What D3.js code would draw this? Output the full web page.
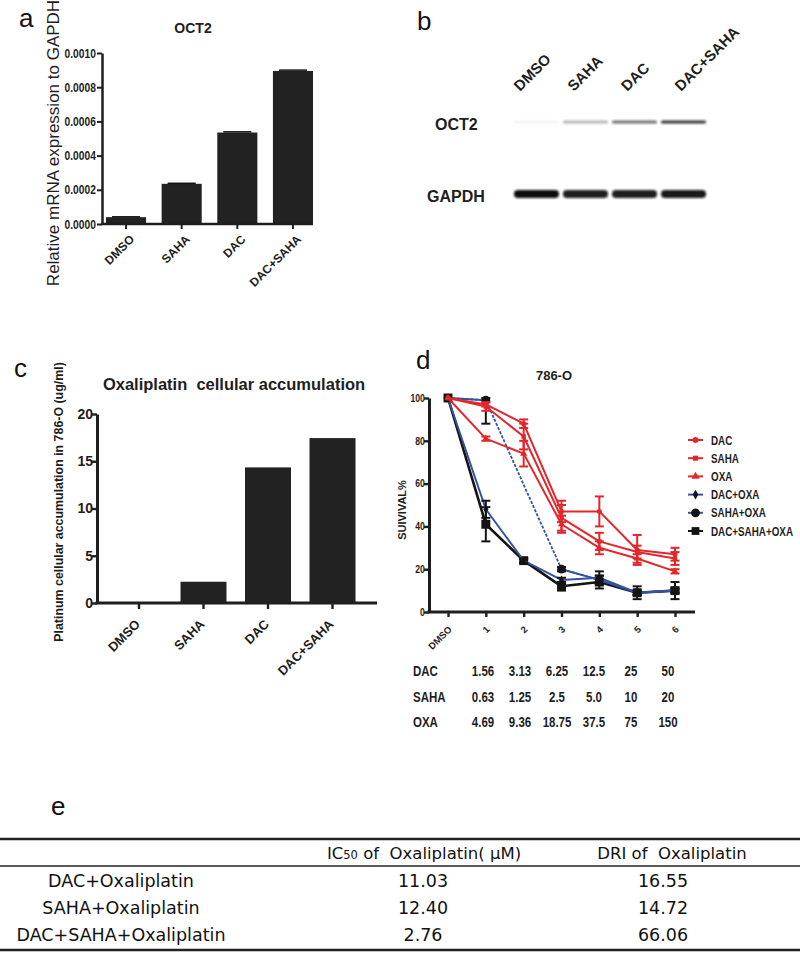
<!DOCTYPE html>
<html><head><meta charset="utf-8">
<script src="https://cdn.jsdelivr.net/npm/d3@7"></script>
<style>body{margin:0;background:#fff}svg{display:block}</style>
</head><body>
<svg id="fig" width="800" height="954"></svg>
<script>
// ---------------- DATA ----------------
const octCats = ["DMSO", "SAHA", "DAC", "DAC+SAHA"];
const octMRNA = [0.00004, 0.000235, 0.000535, 0.000895];
const octMRNAerr = [0.000002, 0.000003, 0.000004, 0.000005];
const octTicks = [0, 0.0002, 0.0004, 0.0006, 0.0008, 0.0010];

const blotLanes = ["DMSO", "SAHA", "DAC", "DAC+SAHA"];
const blotProteins = ["OCT2", "GAPDH"];
const oct2Band = [0.04, 0.3, 0.6, 0.85];
const gapdhBand = [1.0, 0.92, 0.92, 0.95];

const accCats = ["DMSO", "SAHA", "DAC", "DAC+SAHA"];
const accVals = [0.05, 2.25, 14.35, 17.45];
const accTicks = [0, 5, 10, 15, 20];

const doseCats = ["DMSO", "1", "2", "3", "4", "5", "6"];
const survTicks = [0, 20, 40, 60, 80, 100];
const survDAC = [100, 97, 88, 47, 47, 29, 27];
const survDACerr = [0, 1, 2, 5, 7, 7, 3];
const survSAHA = [100, 96, 82, 44, 33, 28, 25];
const survSAHAerr = [0, 2, 6, 6, 4, 3, 3];
const survOXA = [100, 81, 74, 41, 30, 25, 19];
const survOXAerr = [0, 1, 6, 4, 3, 2, 1];
const survDACOXA = [100, 48, 24, 15, 16, 9, 10];
const survDACOXAerr = [0, 4, 1, 1, 3, 1, 1];
const survSAHAOXA = [100, 99, null, 20, 15, 9, 10];
const survSAHAOXAerr = [0, 11, 0, 1, 2, 1, 1];
const survTriple = [100, 41, 24, 12, 14, 9, 10];
const survTripleerr = [0, 8, 1, 2, 3, 3, 4];

const doseRowNames = ["DAC", "SAHA", "OXA"];
const doseDAC = ["1.56", "3.13", "6.25", "12.5", "25", "50"];
const doseSAHA = ["0.63", "1.25", "2.5", "5.0", "10", "20"];
const doseOXA = ["4.69", "9.36", "18.75", "37.5", "75", "150"];

const tblRows = ["DAC+Oxaliplatin", "SAHA+Oxaliplatin", "DAC+SAHA+Oxaliplatin"];
const tblIC50 = ["11.03", "12.40", "2.76"];
const tblDRI = ["16.55", "14.72", "66.06"];

// ---------------- SETUP ----------------
const svg = d3.select("#fig");
const F = "'Liberation Sans', Arial, sans-serif";
const INK = "#1e1e1e";
const RED = "#e4262b", BLUE = "#34539f", BLK = "#141414";
const NARROW = 0.82;

function styleAxis(g, w, fs) {
  g.selectAll(".domain").attr("stroke", INK).attr("stroke-width", w);
  g.selectAll(".tick line").attr("stroke", INK).attr("stroke-width", w * 0.8);
  g.selectAll(".tick text").attr("fill", INK).attr("font-family", F)
    .attr("font-weight", "bold").attr("font-size", fs);
}
function panelLetter(t, x, y) {
  svg.append("text").attr("x", x).attr("y", y).text(t)
    .attr("font-family", F).attr("font-size", 26).attr("fill", "#111");
}
function narrowText(parent, x, y, str, size, anchor) {
  return parent.append("text").attr("transform", `translate(${x},${y}) scale(${NARROW},1)`)
    .attr("text-anchor", anchor || "start").text(str)
    .attr("font-family", F).attr("font-weight", "bold").attr("font-size", size).attr("fill", INK);
}

// ---------------- PANEL A ----------------
{
  const g = svg.append("g");
  const x = d3.scaleBand().domain(octCats).range([106, 313]).paddingInner(0.28).paddingOuter(0);
  const y = d3.scaleLinear().domain([0, 0.001]).range([224, 53]);
  panelLetter("a", 19, 27);
  g.append("text").attr("x", 193).attr("y", 33).attr("text-anchor", "middle").text("OCT2")
    .attr("font-family", F).attr("font-weight", "bold").attr("font-size", 14).attr("fill", INK);
  g.append("text").attr("transform", "translate(59,143) rotate(-90)").attr("text-anchor", "middle")
    .text("Relative mRNA expression to GAPDH").attr("font-family", F).attr("font-size", 17).attr("fill", INK);
  g.selectAll("rect.bar").data(octCats).join("rect").attr("class", "bar")
    .attr("x", d => x(d)).attr("width", x.bandwidth())
    .attr("y", (d, i) => y(octMRNA[i])).attr("height", (d, i) => y(0) - y(octMRNA[i]))
    .attr("fill", "#222");
  g.selectAll("line.eb").data(octCats).join("line").attr("class", "eb")
    .attr("x1", d => x(d) + x.bandwidth() * 0.15).attr("x2", d => x(d) + x.bandwidth() * 0.85)
    .attr("y1", (d, i) => y(octMRNA[i] + octMRNAerr[i])).attr("y2", (d, i) => y(octMRNA[i] + octMRNAerr[i]))
    .attr("stroke", "#111").attr("stroke-width", 1.5);
  const ay = g.append("g").attr("transform", "translate(102,0)")
    .call(d3.axisLeft(y).tickValues(octTicks).tickFormat(d3.format(".4f")).tickSize(5).tickSizeOuter(0));
  styleAxis(ay, 2.5, 12.5);
  ay.selectAll(".tick text").attr("x", -7.5).attr("transform", `scale(${NARROW},1)`);
  const ax = g.append("g").attr("transform", "translate(0,224)")
    .call(d3.axisBottom(x).tickSize(5).tickSizeOuter(0));
  styleAxis(ax, 2.5, 12);
  ax.select(".domain").remove();
  ax.append("line").attr("x1", 101).attr("x2", 313).attr("stroke", INK).attr("stroke-width", 2.5);
  ax.selectAll(".tick text").attr("text-anchor", "end").attr("x", 9).attr("y", 16).attr("dy", 0)
    .attr("transform", "rotate(-45,9,16)");
}

// ---------------- PANEL B (western blot) ----------------
{
  const g = svg.append("g");
  panelLetter("b", 417, 30);
  const defs = svg.append("defs");
  defs.append("filter").attr("id", "blur").attr("x", "-30%").attr("y", "-200%").attr("width", "160%").attr("height", "500%")
    .append("feGaussianBlur").attr("stdDeviation", 1.1);
  const xl = d3.scaleBand().domain(blotLanes).range([510, 710]).padding(0.08);
  const xt = d3.scalePoint().domain(blotLanes).range([520, 681]);
  const yp = d3.scalePoint().domain(blotProteins).range([122, 194]);
  const bandH = {OCT2: 3, GAPDH: 8};
  const inten = {OCT2: oct2Band, GAPDH: gapdhBand};
  g.selectAll("text.lane").data(blotLanes).join("text").attr("class", "lane")
    .attr("transform", d => `translate(${xt(d)},92) rotate(-45)`).text(d => d)
    .attr("font-family", F).attr("font-weight", "bold").attr("font-size", 15).attr("fill", INK);
  g.selectAll("text.prot").data(blotProteins).join("text").attr("class", "prot")
    .attr("x", d => d === "OCT2" ? 435 : 427).attr("y", d => yp(d) + 8).text(d => d)
    .attr("font-family", F).attr("font-weight", "bold").attr("font-size", 16).attr("fill", INK);
  blotProteins.forEach(p => {
    g.selectAll(null).data(blotLanes).join("rect")
      .attr("x", d => xl(d)).attr("width", xl.bandwidth())
      .attr("y", yp(p) - bandH[p] / 2).attr("height", bandH[p]).attr("rx", bandH[p] / 2)
      .attr("fill", "#111").attr("opacity", (d, i) => inten[p][i]).attr("filter", "url(#blur)");
  });
}

// ---------------- PANEL C ----------------
{
  const g = svg.append("g");
  const x = d3.scaleBand().domain(accCats).range([116, 355.5]).paddingInner(0.287).paddingOuter(0);
  const y = d3.scaleLinear().domain([0, 20]).range([603, 414]);
  panelLetter("c", 14, 377);
  g.append("text").attr("x", 234).attr("y", 390).attr("text-anchor", "middle")
    .style("white-space", "pre").text("Oxaliplatin  cellular accumulation")
    .attr("font-family", F).attr("font-weight", "bold").attr("font-size", 16.5).attr("fill", INK);
  g.append("text").attr("transform", "translate(63,502) rotate(-90)").attr("text-anchor", "middle")
    .text("Platinum cellular accumulation in 786-O (ug/ml)")
    .attr("font-family", F).attr("font-weight", "bold").attr("font-size", 12.4).attr("fill", INK);
  g.selectAll("rect.bar").data(accCats).join("rect").attr("class", "bar")
    .attr("x", d => x(d)).attr("width", x.bandwidth())
    .attr("y", (d, i) => y(accVals[i])).attr("height", (d, i) => y(0) - y(accVals[i]))
    .attr("fill", "#222");
  const ay = g.append("g").attr("transform", "translate(97,0)")
    .call(d3.axisLeft(y).tickValues(accTicks).tickSize(6).tickSizeOuter(0));
  styleAxis(ay, 3, 14);
  ay.selectAll(".tick text").attr("x", -4);
  const ax = g.append("g").attr("transform", "translate(0,603)")
    .call(d3.axisBottom(x).tickSize(6).tickSizeOuter(0));
  styleAxis(ax, 3, 13);
  ax.select(".domain").remove();
  ax.append("line").attr("x1", 95.5).attr("x2", 377).attr("stroke", INK).attr("stroke-width", 3);
  ax.selectAll(".tick text").attr("text-anchor", "end").attr("x", 2).attr("y", 22).attr("dy", 0)
    .attr("transform", "rotate(-45,2,22)");
}

// ---------------- PANEL D ----------------
{
  const g = svg.append("g");
  const x = d3.scalePoint().domain(doseCats).range([448, 675]);
  const y = d3.scaleLinear().domain([0, 100]).range([612, 398]);
  panelLetter("d", 416, 369);
  g.append("text").attr("x", 554).attr("y", 380).attr("text-anchor", "middle").text("786-O")
    .attr("font-family", F).attr("font-weight", "bold").attr("font-size", 13).attr("fill", INK);
  g.append("text").attr("transform", "translate(406,510) rotate(-90)").attr("text-anchor", "middle")
    .text("SUIVIVAL%").attr("font-family", F).attr("font-weight", "bold").attr("font-size", 11).attr("fill", INK);

  const ay = g.append("g").attr("transform", "translate(429,0)")
    .call(d3.axisLeft(y).tickValues(survTicks).tickSize(5).tickSizeOuter(0));
  styleAxis(ay, 3, 10.5);
  ay.selectAll(".tick text").attr("x", -5).attr("transform", `scale(${NARROW},1)`);
  const ax = g.append("g").attr("transform", "translate(0,612)")
    .call(d3.axisBottom(x).tickSize(5).tickSizeOuter(0));
  styleAxis(ax, 3, 9.5);
  ax.select(".domain").remove();
  ax.append("line").attr("x1", 427.5).attr("x2", 695).attr("stroke", INK).attr("stroke-width", 3);
  ax.selectAll(".tick text").attr("text-anchor", "end").attr("x", 4).attr("y", 18).attr("dy", 0)
    .attr("transform", "rotate(-45,4,18)");

  const series = [
    {name: "DAC+SAHA+OXA", v: survTriple, e: survTripleerr, c: BLK, lc: BLK, sym: d3.symbolSquare, s: 80, lw: 2.6},
    {name: "DAC+OXA", v: survDACOXA, e: survDACOXAerr, c: BLK, lc: BLUE, sym: d3.symbolDiamond, s: 22, lw: 2},
    {name: "SAHA+OXA", v: survSAHAOXA, e: survSAHAOXAerr, c: BLK, lc: BLUE, sym: d3.symbolCircle, s: 60, lw: 2, gap: true},
    {name: "DAC", v: survDAC, e: survDACerr, c: RED, lc: RED, sym: d3.symbolCircle, s: 20, lw: 2},
    {name: "SAHA", v: survSAHA, e: survSAHAerr, c: RED, lc: RED, sym: d3.symbolSquare, s: 20, lw: 2},
    {name: "OXA", v: survOXA, e: survOXAerr, c: RED, lc: RED, sym: d3.symbolTriangle, s: 22, lw: 2}
  ];
  series.forEach(sr => {
    const pts = doseCats.map((d, i) => ({d, v: sr.v[i], e: sr.e[i]}));
    const line = d3.line().defined(p => p.v != null).x(p => x(p.d)).y(p => y(p.v));
    if (sr.gap) {
      g.append("path").attr("d", line(pts.filter(p => p.v != null))).attr("fill", "none")
        .attr("stroke", sr.lc).attr("stroke-width", 1.8).attr("stroke-dasharray", "3,1.5");
    }
    g.append("path").attr("d", line(pts)).attr("fill", "none").attr("stroke", sr.lc)
      .attr("stroke-width", sr.lw).attr("stroke-linejoin", "round");
    const eb = pts.filter(p => p.v != null && p.e > 0);
    const ec = sr.c === RED ? RED : BLK;
    g.selectAll(null).data(eb).join("line")
      .attr("x1", p => x(p.d)).attr("x2", p => x(p.d))
      .attr("y1", p => y(Math.min(100, p.v + p.e))).attr("y2", p => y(p.v - p.e))
      .attr("stroke", ec).attr("stroke-width", 2);
    [1, -1].forEach(sg => {
      g.selectAll(null).data(eb).join("line")
        .attr("x1", p => x(p.d) - 4.5).attr("x2", p => x(p.d) + 4.5)
        .attr("y1", p => y(sg > 0 ? Math.min(100, p.v + p.e) : p.v - p.e))
        .attr("y2", p => y(sg > 0 ? Math.min(100, p.v + p.e) : p.v - p.e))
        .attr("stroke", ec).attr("stroke-width", 2);
    });
    g.selectAll(null).data(pts.filter(p => p.v != null)).join("path")
      .attr("transform", p => `translate(${x(p.d)},${y(p.v)})`)
      .attr("d", d3.symbol().type(sr.sym).size(sr.s)()).attr("fill", sr.c);
  });

  // legend
  const legOrder = ["DAC", "SAHA", "OXA", "DAC+OXA", "SAHA+OXA", "DAC+SAHA+OXA"];
  const ly = d3.scalePoint().domain(legOrder).range([440, 531]);
  legOrder.forEach(n => {
    const sr = series.find(s => s.name === n);
    const lg = g.append("g").attr("transform", `translate(0,${ly(n)})`);
    lg.append("line").attr("x1", 688).attr("x2", 703).attr("stroke", sr.lc).attr("stroke-width", 2);
    lg.append("path").attr("transform", "translate(695.5,0)")
      .attr("d", d3.symbol().type(sr.sym).size(Math.min(sr.s, 55) + 6)()).attr("fill", sr.c);
    narrowText(lg, 711, 4.5, n, 12);
  });

  // dose table
  const tx = d3.scalePoint().domain(doseCats.slice(1)).range([483, 668]);
  const ry = d3.scalePoint().domain(doseRowNames).range([676, 727]);
  const doseRows = {DAC: doseDAC, SAHA: doseSAHA, OXA: doseOXA};
  doseRowNames.forEach(r => {
    narrowText(g, 413, ry(r), r, 14);
    doseRows[r].forEach((d, i) => narrowText(g, tx(doseCats[i + 1]), ry(r), d, 14, "middle"));
  });
}

// ---------------- PANEL E (table) ----------------
{
  const g = svg.append("g");
  const TF = "'DejaVu Sans', 'Noto Sans', sans-serif";
  svg.append("text").attr("x", 51).attr("y", 815).text("e")
    .attr("font-family", F).attr("font-size", 26).attr("fill", "#111");
  const colX = d3.scalePoint().domain(["name", "ic50", "dri"]).range([121, 668]);
  [[839, 2.6], [866, 1.6], [950, 2.6]].forEach(([yy, w]) =>
    g.append("line").attr("x1", 0).attr("x2", 800).attr("y1", yy).attr("y2", yy)
      .attr("stroke", "#222").attr("stroke-width", w));
  const h1 = g.append("text").attr("x", 424).attr("y", 859).attr("text-anchor", "middle")
    .style("white-space", "pre").attr("font-family", TF).attr("font-size", 16.5).attr("fill", "#111");
  h1.append("tspan").text("IC");
  h1.append("tspan").attr("font-size", 11.5).text("50");
  h1.append("tspan").text(" of  Oxaliplatin( μM)");
  g.append("text").attr("x", 672).attr("y", 859).attr("text-anchor", "middle").style("white-space", "pre")
    .text("DRI of  Oxaliplatin").attr("font-family", TF).attr("font-size", 16.5).attr("fill", "#111");
  const rowY = d3.scalePoint().domain(tblRows).range([887, 941]);
  tblRows.forEach((r, i) => {
    g.append("text").attr("x", colX("name")).attr("y", rowY(r)).attr("text-anchor", "middle").text(r)
      .attr("font-family", TF).attr("font-size", 17.5).attr("fill", "#111");
    g.append("text").attr("x", 423).attr("y", rowY(r)).attr("text-anchor", "middle").text(tblIC50[i])
      .attr("font-family", TF).attr("font-size", 17.5).attr("fill", "#111");
    g.append("text").attr("x", 663).attr("y", rowY(r)).attr("text-anchor", "middle").text(tblDRI[i])
      .attr("font-family", TF).attr("font-size", 17.5).attr("fill", "#111");
  });
}
</script>
</body></html>
